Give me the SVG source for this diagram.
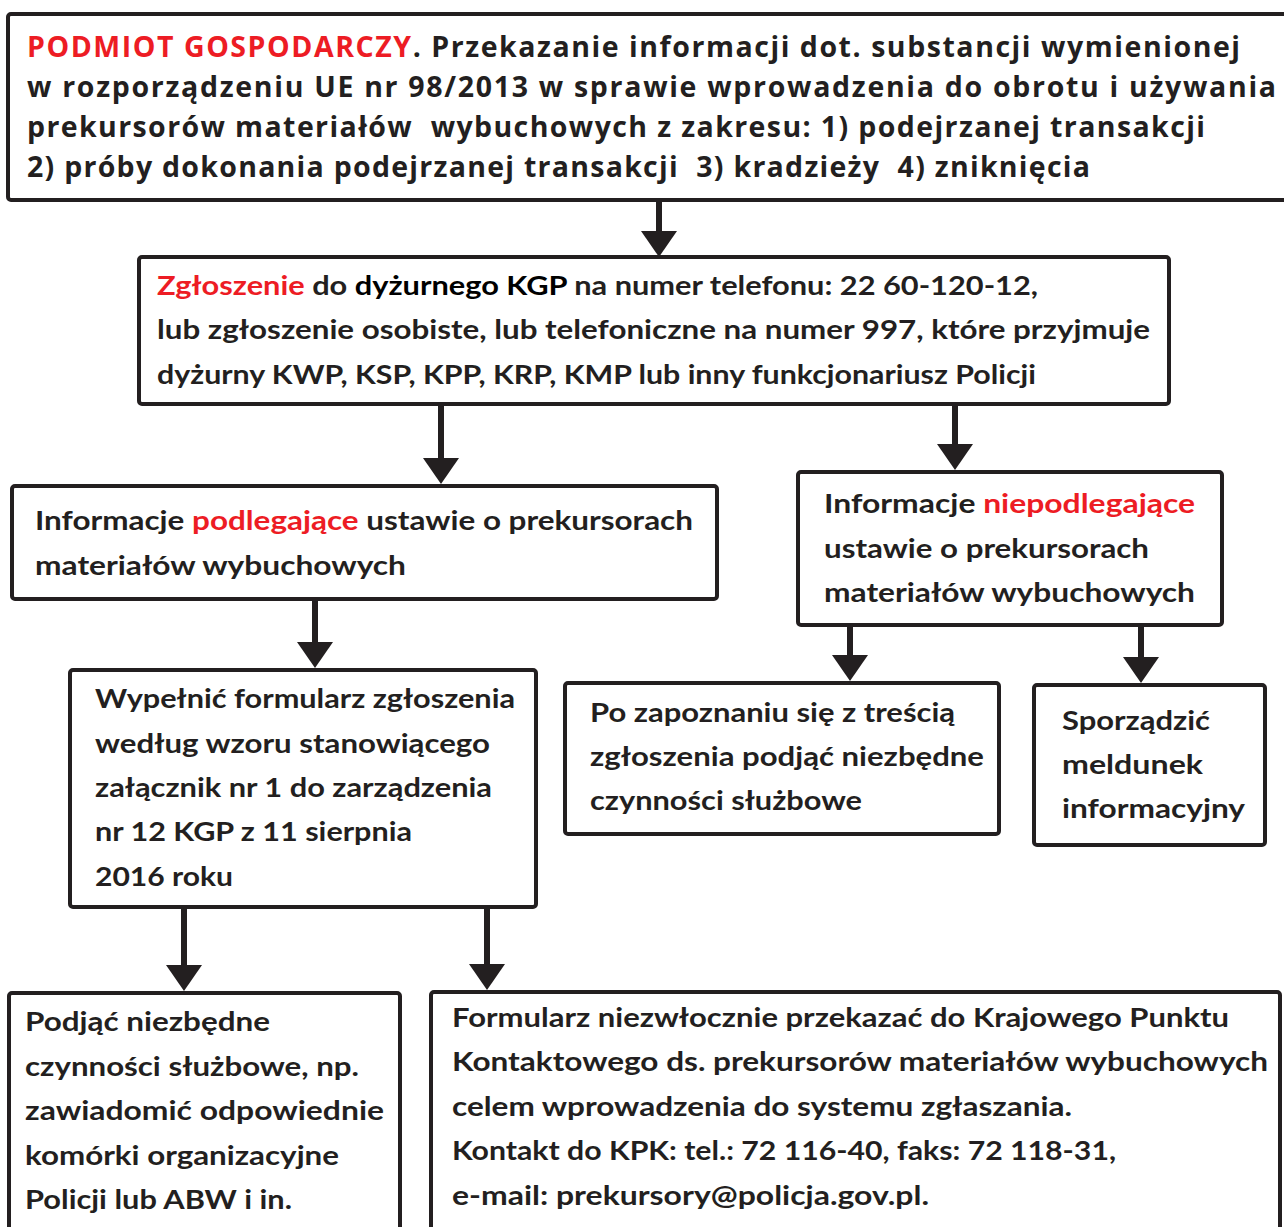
<svg xmlns="http://www.w3.org/2000/svg" width="1284" height="1227" viewBox="0 0 1284 1227">
<style>
.box{fill:#fff;stroke:#231f20;stroke-width:4}
.t1{font-family:"Open Sans","Noto Sans",sans-serif;font-weight:700;font-size:28.5px;fill:#231f20}
.t{font-family:Lato,"Noto Sans",sans-serif;font-weight:700;font-size:27px;fill:#231f20}
.r{fill:#ed1c24}
.k{fill:#000}
.conn{stroke:#231f20;stroke-width:6;fill:none}
</style>
<defs>
<marker id="ah" markerUnits="userSpaceOnUse" viewBox="0 0 26 36" markerWidth="26" markerHeight="36" refX="6" refY="18" orient="auto">
<path d="M0,0 L26,18 L0,36 z" fill="#231f20"/>
</marker>
</defs>
<g id="connectors">
<line class="conn" x1="659" y1="200" x2="659" y2="237" marker-end="url(#ah)"/>
<line class="conn" x1="441" y1="404" x2="441" y2="464" marker-end="url(#ah)"/>
<line class="conn" x1="955" y1="404" x2="955" y2="450" marker-end="url(#ah)"/>
<line class="conn" x1="315" y1="599" x2="315" y2="648" marker-end="url(#ah)"/>
<line class="conn" x1="850" y1="625" x2="850" y2="661" marker-end="url(#ah)"/>
<line class="conn" x1="1141" y1="625" x2="1141" y2="663" marker-end="url(#ah)"/>
<line class="conn" x1="184" y1="907" x2="184" y2="971" marker-end="url(#ah)"/>
<line class="conn" x1="487" y1="907" x2="487" y2="970" marker-end="url(#ah)"/>
</g>
<g id="n1">
<rect class="box" x="8" y="14" width="1300" height="186" rx="3"/>
<text class="t1" xml:space="preserve"><tspan x="27" y="57" textLength="1213" lengthAdjust="spacing"><tspan class="r">PODMIOT GOSPODARCZY</tspan>. Przekazanie informacji dot. substancji wymienionej</tspan></text>
<text class="t1" x="27" y="97" textLength="1249" lengthAdjust="spacing">w rozporządzeniu UE nr 98/2013 w sprawie wprowadzenia do obrotu i używania</text>
<text class="t1" x="27" y="137" textLength="1178" lengthAdjust="spacing" xml:space="preserve">prekursorów materiałów  wybuchowych z zakresu: 1) podejrzanej transakcji</text>
<text class="t1" x="27" y="177" textLength="1063" lengthAdjust="spacing" xml:space="preserve">2) próby dokonania podejrzanej transakcji  3) kradzieży  4) zniknięcia</text>
</g>
<g id="n2">
<rect class="box" x="139" y="257" width="1030" height="147" rx="3"/>
<text class="t" x="157" y="295" textLength="881" lengthAdjust="spacingAndGlyphs"><tspan class="r">Zgłoszenie</tspan> do <tspan class="k">dyżurnego KGP</tspan> na numer telefonu: 22 60-120-12,</text>
<text class="t" x="157" y="339" textLength="993" lengthAdjust="spacingAndGlyphs">lub zgłoszenie osobiste, lub telefoniczne na numer 997, które przyjmuje</text>
<text class="t" x="157" y="384" textLength="879" lengthAdjust="spacingAndGlyphs">dyżurny KWP, KSP, KPP, KRP, KMP lub inny funkcjonariusz Policji</text>
</g>
<g id="n3">
<rect class="box" x="12" y="486" width="705" height="113" rx="3"/>
<text class="t" x="35" y="530" textLength="658" lengthAdjust="spacingAndGlyphs">Informacje <tspan class="r">podlegające</tspan> ustawie o prekursorach</text>
<text class="t" x="35" y="575" textLength="371" lengthAdjust="spacingAndGlyphs">materiałów wybuchowych</text>
</g>
<g id="n4">
<rect class="box" x="798" y="472" width="424" height="153" rx="3"/>
<text class="t" x="824" y="513" textLength="371" lengthAdjust="spacingAndGlyphs">Informacje <tspan class="r">niepodlegające</tspan></text>
<text class="t" x="824" y="558" textLength="325" lengthAdjust="spacingAndGlyphs">ustawie o prekursorach</text>
<text class="t" x="824" y="602" textLength="371" lengthAdjust="spacingAndGlyphs">materiałów wybuchowych</text>
</g>
<g id="n5">
<rect class="box" x="70" y="670" width="466" height="237" rx="3"/>
<text class="t" x="95" y="708" textLength="420" lengthAdjust="spacingAndGlyphs">Wypełnić formularz zgłoszenia</text>
<text class="t" x="95" y="753" textLength="395" lengthAdjust="spacingAndGlyphs">według wzoru stanowiącego</text>
<text class="t" x="95" y="797" textLength="397" lengthAdjust="spacingAndGlyphs">załącznik nr 1 do zarządzenia</text>
<text class="t" x="95" y="841" textLength="317" lengthAdjust="spacingAndGlyphs">nr 12 KGP z 11 sierpnia</text>
<text class="t" x="95" y="886" textLength="138" lengthAdjust="spacingAndGlyphs">2016 roku</text>
</g>
<g id="n6">
<rect class="box" x="565" y="683" width="434" height="151" rx="3"/>
<text class="t" x="590" y="722" textLength="365" lengthAdjust="spacingAndGlyphs">Po zapoznaniu się z treścią</text>
<text class="t" x="590" y="766" textLength="394" lengthAdjust="spacingAndGlyphs">zgłoszenia podjąć niezbędne</text>
<text class="t" x="590" y="810" textLength="272" lengthAdjust="spacingAndGlyphs">czynności służbowe</text>
</g>
<g id="n7">
<rect class="box" x="1034" y="685" width="231" height="160" rx="3"/>
<text class="t" x="1062" y="730" textLength="148" lengthAdjust="spacingAndGlyphs">Sporządzić</text>
<text class="t" x="1062" y="774" textLength="141" lengthAdjust="spacingAndGlyphs">meldunek</text>
<text class="t" x="1062" y="818" textLength="183" lengthAdjust="spacingAndGlyphs">informacyjny</text>
</g>
<g id="n8">
<rect class="box" x="9" y="993" width="391" height="260" rx="3"/>
<text class="t" x="25" y="1031" textLength="245" lengthAdjust="spacingAndGlyphs">Podjąć niezbędne</text>
<text class="t" x="25" y="1076" textLength="334" lengthAdjust="spacingAndGlyphs">czynności służbowe, np.</text>
<text class="t" x="25" y="1120" textLength="359" lengthAdjust="spacingAndGlyphs">zawiadomić odpowiednie</text>
<text class="t" x="25" y="1165" textLength="314" lengthAdjust="spacingAndGlyphs">komórki organizacyjne</text>
<text class="t" x="25" y="1209" textLength="267" lengthAdjust="spacingAndGlyphs">Policji lub ABW i in.</text>
</g>
<g id="n9">
<rect class="box" x="431" y="992" width="849" height="260" rx="3"/>
<text class="t" x="452" y="1027" textLength="777" lengthAdjust="spacingAndGlyphs">Formularz niezwłocznie przekazać do Krajowego Punktu</text>
<text class="t" x="452" y="1071" textLength="816" lengthAdjust="spacingAndGlyphs">Kontaktowego ds. prekursorów materiałów wybuchowych</text>
<text class="t" x="452" y="1116" textLength="620" lengthAdjust="spacingAndGlyphs">celem wprowadzenia do systemu zgłaszania.</text>
<text class="t" x="452" y="1160" textLength="664" lengthAdjust="spacingAndGlyphs">Kontakt do KPK: tel.: 72 116-40, faks: 72 118-31,</text>
<text class="t" x="452" y="1205" textLength="477" lengthAdjust="spacingAndGlyphs">e-mail: prekursory@policja.gov.pl.</text>
</g>
</svg>
